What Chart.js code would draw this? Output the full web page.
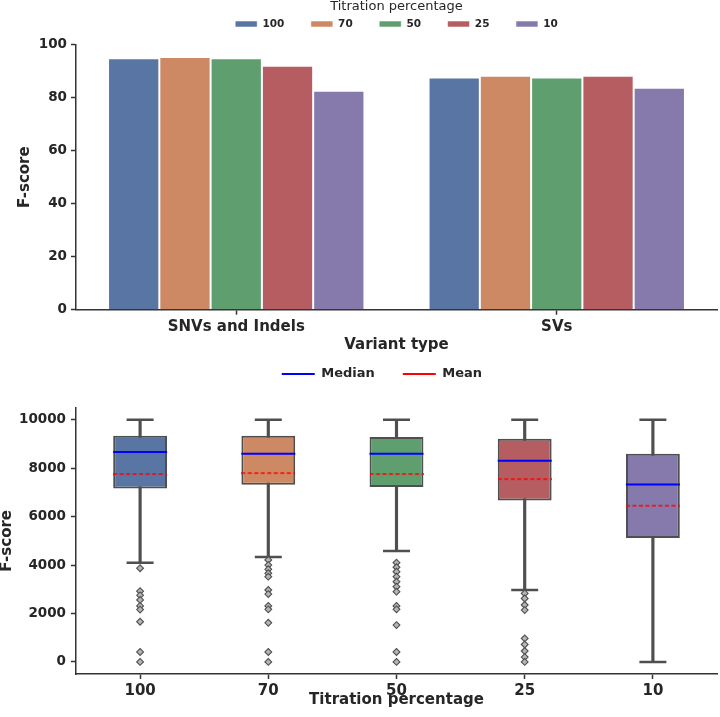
<!DOCTYPE html>
<html>
<head>
<meta charset="utf-8">
<title>F-score by titration percentage</title>
<script src="https://cdn.jsdelivr.net/npm/chart.js@4.4.1/dist/chart.umd.min.js"></script>
<style>
  html, body { margin: 0; padding: 0; background: #fff; }
  .panel { position: relative; width: 720px; }
  #top { height: 357px; }
  #bottom { height: 360px; }
</style>
</head>
<body>
<div class="panel" id="top"><canvas id="barChart"></canvas></div>
<div class="panel" id="bottom"><canvas id="boxChart"></canvas></div>
<script>
/* top panel: F-score per variant type, one series per titration */
const VARIANT_TYPES = ['SNVs and Indels', 'SVs'];
const TITRATIONS = ['100', '70', '50', '25', '10'];
const FSCORE_T100 = [94.9, 87.6];
const FSCORE_T70 = [95.4, 88.3];
const FSCORE_T50 = [94.9, 87.6];
const FSCORE_T25 = [92.1, 88.3];
const FSCORE_T10 = [82.6, 83.8];

/* bottom panel: box summaries per titration */
const BOX_Q1 = [7160, 7315, 7220, 6665, 5120];
const BOX_Q3 = [9345, 9345, 9290, 9220, 8600];
const MEDIANS = [8670, 8600, 8600, 8310, 7330];
const MEANS = [7760, 7800, 7760, 7550, 6450];
const WHISKER_LO = [4100, 4335, 4585, 2970, 0];
const WHISKER_HI = [10000, 10000, 10000, 10000, 10000];
const OUT_100 = [3870, 2920, 2750, 2560, 2310, 2160, 1660, 410, 0];
const OUT_70 = [4210, 4000, 3825, 3660, 3520, 2970, 2800, 2310, 2170, 1615, 410, 0];
const OUT_50 = [4100, 3910, 3725, 3520, 3310, 3105, 2900, 2310, 2170, 1520, 410, 0];
const OUT_25 = [2830, 2620, 2350, 2140, 970, 720, 450, 200, 0];
const OUT_10 = [];
const BOX_Y_TICKS = [0, 2000, 4000, 6000, 8000, 10000];

const PALETTE = ['#5875a4', '#cc8963', '#5f9e6e', '#b55d60', '#857aab'];
const INK = '#262626';
const AXIS = '#333333';
const EDGE = '#4f4f4f';
const MEDIAN_COLOR = '#0000ff';
const MEAN_COLOR = '#ff0000';

Chart.defaults.font.family = "'DejaVu Sans', sans-serif";
Chart.defaults.color = INK;

// empty top box used only to push the plot area down under the legend
function spacer(h) {
  return { display: true, text: '', position: 'top', fullSize: false, weight: 500, font: { size: 1 }, padding: { top: h - 1.2, bottom: 0 } };
}

// nudge the legend sideways (matplotlib placed it off the axes centre)
function shiftLegend(dx) {
  return {
    id: 'shiftLegend',
    afterLayout(chart) {
      chart.legend.left += dx;
      chart.legend.right += dx;
    },
  };
}

function dashedMark(width, color) {
  const c = document.createElement('canvas');
  c.width = width;
  c.height = 4;
  const g = c.getContext('2d');
  g.strokeStyle = color;
  g.lineWidth = 1.6;
  g.setLineDash([4, 2.5]);
  g.beginPath();
  g.moveTo(0, 2);
  g.lineTo(width, 2);
  g.stroke();
  return c;
}

function axisStyle() {
  return {
    grid: { drawOnChartArea: false, offset: false, tickLength: 5, tickWidth: 1.5, tickColor: AXIS },
    border: { color: AXIS, width: 1.5 },
  };
}

// ---- top: grouped bars
const BAR_SERIES = [FSCORE_T100, FSCORE_T70, FSCORE_T50, FSCORE_T25, FSCORE_T10];

new Chart(document.getElementById('barChart'), {
  type: 'bar',
  data: {
    labels: VARIANT_TYPES,
    datasets: TITRATIONS.map((t, i) => ({
      label: t,
      data: BAR_SERIES[i],
      backgroundColor: PALETTE[i],
      borderColor: 'rgba(255,255,255,0.55)',
      borderWidth: 1,
      categoryPercentage: 0.8,
      barPercentage: 1,
    })),
  },
  options: {
    responsive: true,
    maintainAspectRatio: false,
    animation: false,
    events: [],
    layout: { padding: { top: -1, right: 3, bottom: 0, left: 0 } },
    plugins: {
      tooltip: { enabled: false },
      legend: {
        position: 'top',
        fullSize: false,
        title: { display: true, text: 'Titration percentage', color: INK, font: { size: 13 }, padding: { top: 1.5, bottom: -23.85 } },
        labels: { boxWidth: 22, boxHeight: 6, padding: 26.5, color: INK, font: { size: 10.5, weight: 'bold' } },
      },
      subtitle: spacer(5.45),
    },
    scales: {
      x: {
        ...axisStyle(),
        ticks: { padding: 3, maxRotation: 0, color: INK, font: { size: 15, weight: 'bold' } },
        title: { display: true, text: 'Variant type', color: INK, font: { size: 15, weight: 'bold' }, padding: { top: 0, bottom: 3 } },
        afterFit: s => { s.height = 47.3; },
      },
      y: {
        ...axisStyle(),
        min: 0,
        max: 100,
        ticks: { stepSize: 20, padding: 4, color: INK, font: { size: 13.5, weight: 'bold' } },
        title: { display: true, text: 'F-score', color: INK, font: { size: 15, weight: 'bold', lineHeight: 1 }, padding: { top: 18, bottom: 0 } },
        afterFit: s => { s.width = 76; },
      },
    },
  },
});

// ---- bottom: box plots built from floating bars + point markers
const OUTLIERS = [OUT_100, OUT_70, OUT_50, OUT_25, OUT_10];
const outlierPoints = TITRATIONS.flatMap((t, i) => OUTLIERS[i].map(v => ({ x: t, y: v })));

new Chart(document.getElementById('boxChart'), {
  type: 'bar',
  data: {
    labels: TITRATIONS,
    datasets: [
      {
        label: 'whisker',
        data: TITRATIONS.map((_, i) => [WHISKER_LO[i], WHISKER_HI[i]]),
        backgroundColor: EDGE,
        barThickness: 2.5,
        grouped: false,
        order: 5,
      },
      {
        label: 'box',
        data: TITRATIONS.map((_, i) => [BOX_Q1[i], BOX_Q3[i]]),
        backgroundColor: PALETTE,
        borderColor: EDGE,
        borderWidth: 2,
        borderSkipped: false,
        categoryPercentage: 1,
        barPercentage: 0.42,
        grouped: false,
        order: 4,
      },
      {
        type: 'line', label: 'cap-hi', data: WHISKER_HI, showLine: false,
        pointStyle: 'line', pointRadius: 13.5, pointBorderColor: EDGE, pointBorderWidth: 2.5, order: 3,
      },
      {
        type: 'line', label: 'cap-lo', data: WHISKER_LO, showLine: false,
        pointStyle: 'line', pointRadius: 13.5, pointBorderColor: EDGE, pointBorderWidth: 2.5, order: 3,
      },
      {
        type: 'line', label: 'Median', data: MEDIANS, showLine: false,
        pointStyle: 'line', pointRadius: 27, pointBorderColor: MEDIAN_COLOR, pointBorderWidth: 2, order: 1,
      },
      {
        type: 'line', label: 'Mean', data: MEANS, showLine: false,
        pointStyle: dashedMark(54, MEAN_COLOR), pointRadius: 27, order: 1,
      },
      {
        type: 'line', label: 'outliers', data: outlierPoints, showLine: false,
        pointStyle: 'rectRot', pointRadius: 3.4, pointBackgroundColor: '#b5b5b5',
        pointBorderColor: EDGE, pointBorderWidth: 1.1, order: 2,
      },
    ],
  },
  options: {
    responsive: true,
    maintainAspectRatio: false,
    animation: false,
    events: [],
    layout: { autoPadding: false, padding: { top: -17.5, right: 3, bottom: 0, left: 0 } },
    plugins: {
      tooltip: { enabled: false },
      legend: {
        position: 'top',
        fullSize: false,
        labels: {
          usePointStyle: true,
          pointStyleWidth: 33,
          padding: 28,
          color: INK,
          font: { size: 13, weight: 'bold' },
          generateLabels: () => [
            { text: 'Median', pointStyle: 'line', strokeStyle: MEDIAN_COLOR, fillStyle: MEDIAN_COLOR, fontColor: INK, lineWidth: 2, hidden: false, datasetIndex: 4 },
            { text: 'Mean', pointStyle: 'line', strokeStyle: MEAN_COLOR, fillStyle: MEAN_COLOR, fontColor: INK, lineWidth: 2, hidden: false, datasetIndex: 5 },
          ],
        },
      },
      subtitle: spacer(17.2),
    },
    scales: {
      x: {
        ...axisStyle(),
        ticks: { padding: 3, maxRotation: 0, color: INK, font: { size: 15, weight: 'bold' } },
        title: { display: true, text: 'Titration percentage', color: INK, font: { size: 15, weight: 'bold' }, padding: { top: 0, bottom: 8 } },
        afterFit: s => { s.height = 43; },
      },
      y: {
        ...axisStyle(),
        min: -500,
        max: 10500,
        afterBuildTicks: s => { s.ticks = BOX_Y_TICKS.map(v => ({ value: v })); },
        ticks: { padding: 5, color: INK, font: { size: 13.5, weight: 'bold' }, callback: v => String(v) },
        title: { display: true, text: 'F-score', color: INK, font: { size: 15, weight: 'bold', lineHeight: 1 }, padding: { top: 0, bottom: 0 } },
        afterFit: s => { s.width = 76; },
      },
    },
  },
  plugins: [shiftLegend(-14.6)],
});
</script>
</body>
</html>
